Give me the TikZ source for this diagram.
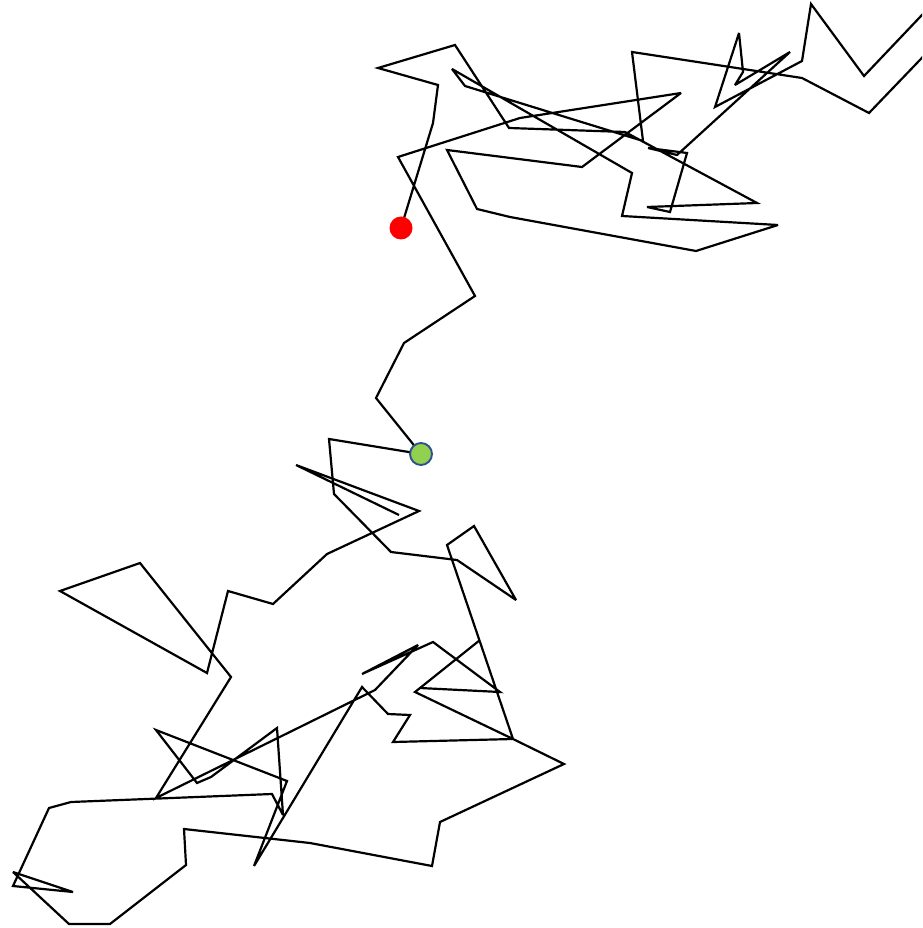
\documentclass[tikz,border=0pt]{standalone}
\usepackage{xcolor}
\definecolor{dotgreen}{HTML}{92D050}
\definecolor{dotrim}{HTML}{2F528F}
\begin{document}
\begin{tikzpicture}[x=0.02cm, y=-0.02cm,
  walk/.style={draw=black, line width=1.25pt, line join=miter, miter limit=4},
  startdot/.style={circle, fill=dotgreen, draw=dotrim, line width=1.1pt, minimum size=0.44cm, inner sep=0pt},
  goaldot/.style={circle, fill=red, minimum size=0.46cm, inner sep=0pt}]
\useasboundingbox (0,0) rectangle (922,928);
\clip (0,0) rectangle (922,928);
\coordinate (start) at (421,454);
\coordinate (goal) at (401,228);
% upper branch, green dot to red dot
\draw[walk] (start) -- (376,398) -- (404,343) -- (475,296) -- (398,157) -- (520,118)
  -- (681,93) -- (582,167) -- (447,150) -- (477,209) -- (510,217) -- (696,251)
  -- (778,225) -- (622,216) -- (632,173) -- (452,69) -- (465,86) -- (643,141)
  -- (632,52) -- (802,78) -- (869,113) -- (940,39) -- (940,-4) -- (864,76)
  -- (811,4) -- (802,61) -- (715,107) -- (739,33) -- (743,72) -- (735,85)
  -- (790,52) -- (677,155) -- (648,148) -- (687,153) -- (670,212) -- (647,207)
  -- (757,203) -- (625,132) -- (509,128) -- (455,45) -- (378,68) -- (438,85)
  -- (433,123) -- (goal);
% lower branch
\draw[walk] (start) -- (329,439) -- (334,494) -- (391,552) -- (457,560) -- (516,600)
  -- (474,526) -- (447,545) -- (513,739) -- (564,764) -- (440,822) -- (432,866)
  -- (310,843) -- (184,829) -- (186,865) -- (110,924) -- (69,924) -- (13,872)
  -- (73,892) -- (13,886) -- (49,808) -- (71,802) -- (272,794) -- (283,815)
  -- (277,728) -- (211,777) -- (197,783) -- (156,730) -- (287,781) -- (254,866)
  -- (362,687) -- (388,714) -- (410,715) -- (393,742) -- (513,739) -- (415,692)
  -- (480,640) -- (420,688) -- (500,692) -- (433,642) -- (362,674) -- (418,645)
  -- (375,690) -- (156,798) -- (231,677) -- (140,563) -- (60,591) -- (207,673)
  -- (228,591) -- (273,604) -- (327,554) -- (419,511) -- (296,465) -- (399,515);
\node[startdot] (startmark) at (start) {};
\node[goaldot] (goalmark) at (goal) {};
\end{tikzpicture}
\end{document}
